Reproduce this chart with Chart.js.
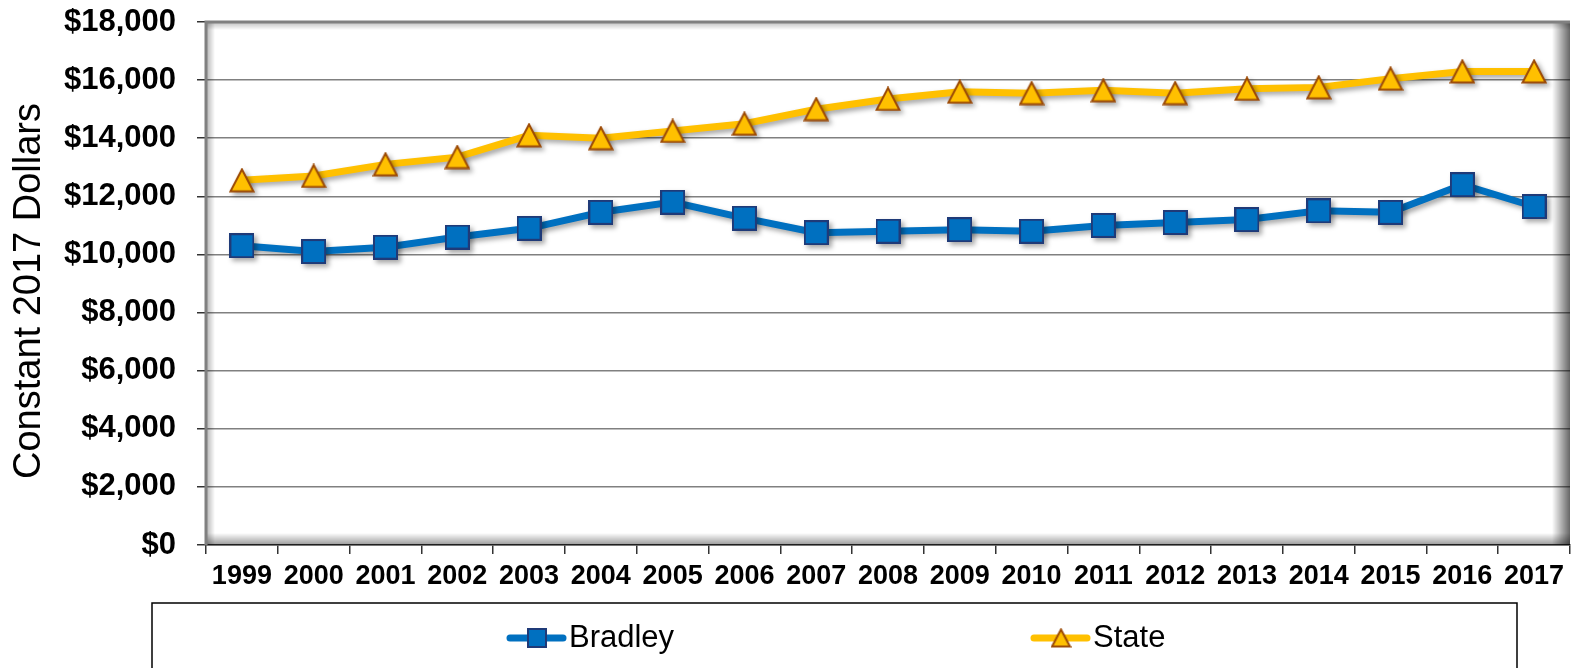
<!DOCTYPE html>
<html>
<head>
<meta charset="utf-8">
<script src="https://cdn.jsdelivr.net/npm/chart.js@4.4.1/dist/chart.umd.min.js"></script>
<style>
    html, body { margin: 0; background: #fff; overflow: hidden; }
    canvas { display: block; }
</style>
</head>
<body>
<canvas id="spendingChart" width="1572" height="668"></canvas>
<script>
const years = ['1999', '2000', '2001', '2002', '2003', '2004', '2005', '2006', '2007', '2008',
               '2009', '2010', '2011', '2012', '2013', '2014', '2015', '2016', '2017'];
const bradley = [10300, 10100, 10250, 10600, 10900, 11450, 11800, 11250, 10750, 10800,
                 10850, 10800, 11000, 11100, 11200, 11500, 11450, 12400, 11650];
const state = [12550, 12700, 13100, 13350, 14100, 14000, 14250, 14500, 15000, 15350,
               15600, 15550, 15650, 15550, 15700, 15750, 16050, 16300, 16300];
const yTicks = [0, 2000, 4000, 6000, 8000, 10000, 12000, 14000, 16000, 18000];
const yTitle = 'Constant 2017 Dollars';

const FONT = 'Liberation Sans';

// Small canvases used as point markers
function makeSquare(size, fill, stroke) {
    const c = document.createElement('canvas');
    c.width = size; c.height = size;
    const g = c.getContext('2d');
    g.fillStyle = fill;
    g.fillRect(0, 0, size, size);
    g.strokeStyle = stroke;
    g.lineWidth = 2;
    g.strokeRect(1, 1, size - 2, size - 2);
    return c;
}

function makeTriangle(w, h, fill, stroke) {
    const c = document.createElement('canvas');
    c.width = w; c.height = h;
    const g = c.getContext('2d');
    g.beginPath();
    g.moveTo(w / 2, 1.5);
    g.lineTo(w - 1.5, h - 1.5);
    g.lineTo(1.5, h - 1.5);
    g.closePath();
    g.fillStyle = fill;
    g.fill();
    g.strokeStyle = stroke;
    g.lineWidth = 2;
    g.stroke();
    return c;
}

const blue = '#0070C0', navy = '#1F3A78';
const gold = '#FFC000', brown = '#9C4A06';

const markers = {
    Bradley: { plot: makeSquare(25, blue, navy), legend: makeSquare(20, blue, navy) },
    State: { plot: makeTriangle(26, 25, gold, brown), legend: makeTriangle(21, 20, gold, brown) }
};

// Inset frame + drop shadow under the series
const framePlugin = {
    id: 'frame',
    beforeDatasetsDraw(chart) {
        const { ctx, chartArea: a } = chart;
        const edge = (x0, y0, x1, y1, alpha, rect) => {
            const gr = ctx.createLinearGradient(x0, y0, x1, y1);
            gr.addColorStop(0, `rgba(0,0,0,${alpha})`);
            gr.addColorStop(1, 'rgba(0,0,0,0)');
            ctx.fillStyle = gr;
            ctx.fillRect(...rect);
        };
        ctx.save();
        edge(a.left, 0, a.left + 9, 0, 0.3, [a.left, a.top, 9, a.height]);
        edge(0, a.top, 0, a.top + 8, 0.25, [a.left, a.top, a.width, 8]);
        edge(a.right, 0, a.right - 18, 0, 0.6, [a.right - 18, a.top, 18, a.height]);
        edge(0, a.bottom, 0, a.bottom - 12, 0.4, [a.left, a.bottom - 12, a.width, 12]);
        ctx.strokeStyle = '#808080';
        ctx.lineWidth = 3;
        ctx.beginPath();
        ctx.moveTo(a.left, a.bottom);
        ctx.lineTo(a.left, a.top);
        ctx.lineTo(a.right, a.top);
        ctx.stroke();
        ctx.restore();

        ctx.save();
        ctx.shadowColor = 'rgba(0,0,0,0.35)';
        ctx.shadowBlur = 5;
        ctx.shadowOffsetX = 3;
        ctx.shadowOffsetY = 3;
    },
    afterDatasetsDraw(chart) {
        chart.ctx.restore();
    }
};

// Rotated y-axis title, sits a little below the axis centre like the original
const yTitlePlugin = {
    id: 'yTitle',
    afterDraw(chart) {
        const ctx = chart.ctx;
        ctx.save();
        ctx.translate(30, 291);
        ctx.rotate(-Math.PI / 2);
        ctx.fillStyle = '#000';
        ctx.font = `38px "${FONT}"`;
        ctx.textAlign = 'center';
        ctx.textBaseline = 'middle';
        ctx.fillText(yTitle, 0, 0);
        ctx.restore();
    }
};

// Legend box below the chart
const legendBoxPlugin = {
    id: 'legendBox',
    afterDraw(chart) {
        const ctx = chart.ctx;
        const itemX = [507, 1031];
        const y = 638;
        ctx.save();
        ctx.strokeStyle = '#000';
        ctx.lineWidth = 1.5;
        ctx.beginPath();
        ctx.moveTo(152, 670);
        ctx.lineTo(152, 603);
        ctx.lineTo(1517, 603);
        ctx.lineTo(1517, 670);
        ctx.stroke();

        chart.data.datasets.forEach((ds, i) => {
            const x = itemX[i];
            ctx.strokeStyle = ds.borderColor;
            ctx.lineWidth = 7;
            ctx.lineCap = 'round';
            ctx.beginPath();
            ctx.moveTo(x + 3, y);
            ctx.lineTo(x + 56, y);
            ctx.stroke();
            const m = markers[ds.label].legend;
            ctx.drawImage(m, x + 30 - m.width / 2, y - m.height / 2);
            ctx.fillStyle = '#000';
            ctx.font = `31px "${FONT}"`;
            ctx.textBaseline = 'middle';
            ctx.fillText(ds.label, x + 62, y);
        });
        ctx.restore();
    }
};

function initChart() {
    const ctx = document.getElementById('spendingChart').getContext('2d');
    new Chart(ctx, {
        type: 'line',
        data: {
            labels: years,
            datasets: [
                {
                    label: 'Bradley',
                    data: bradley,
                    borderColor: blue,
                    backgroundColor: blue,
                    borderWidth: 7,
                    pointStyle: markers.Bradley.plot,
                    pointRadius: 12,
                    tension: 0
                },
                {
                    label: 'State',
                    data: state,
                    borderColor: gold,
                    backgroundColor: gold,
                    borderWidth: 7,
                    pointStyle: markers.State.plot,
                    pointRadius: 12,
                    tension: 0
                }
            ]
        },
        options: {
            responsive: false,
            animation: false,
            events: [],
            layout: { autoPadding: false, padding: { top: 22, right: 2, left: 0, bottom: 0 } },
            plugins: {
                legend: { display: false },
                tooltip: { enabled: false }
            },
            scales: {
                x: {
                    offset: true,
                    grid: { offset: true, drawOnChartArea: false, tickLength: 9, color: '#333', lineWidth: 1.5 },
                    border: { color: '#333', width: 1.5 },
                    ticks: {
                        color: '#000',
                        font: { family: FONT, size: 27, weight: 'bold' },
                        padding: 6,
                        maxRotation: 0,
                        autoSkip: false
                    },
                    afterFit: s => {
                        s.height = 123;
                        s.paddingLeft = 0;
                        s.paddingRight = 0;
                    }
                },
                y: {
                    min: 0,
                    max: 18000,
                    afterBuildTicks: axis => { axis.ticks = yTicks.map(v => ({ value: v })); },
                    grid: { color: '#808080', lineWidth: 1.5, tickLength: 9, tickColor: '#333' },
                    border: { display: false },
                    ticks: {
                        color: '#000',
                        font: { family: FONT, size: 31, weight: 'bold' },
                        padding: 21,
                        callback: v => '$' + v.toLocaleString('en-US')
                    },
                    afterFit: s => {
                        s.width = 206;
                        s.paddingTop = 0;
                        s.paddingBottom = 0;
                    }
                }
            }
        },
        plugins: [framePlugin, yTitlePlugin, legendBoxPlugin]
    });
}

document.addEventListener('DOMContentLoaded', initChart);
</script>
</body>
</html>
